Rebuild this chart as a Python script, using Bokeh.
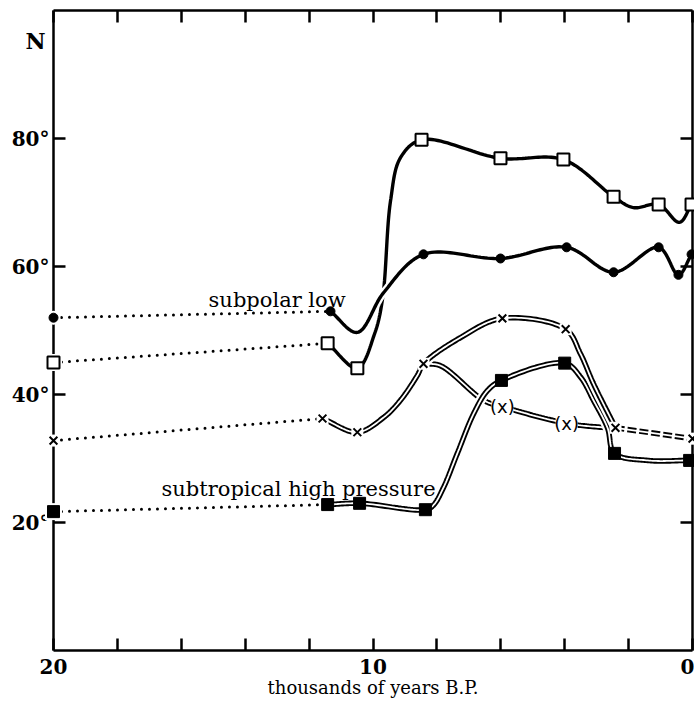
import numpy as np
from bokeh.plotting import figure
from bokeh.models import Range1d, FixedTicker, LinearAxis
from bokeh.core.properties import value
from bokeh.embed import file_html
from bokeh.resources import INLINE

# ---------------- data ----------------
# glacial values at 20 kyr B.P. joined by dotted lines to the first Holocene value
glacial_lat = [52.0, 45.0, 32.8, 21.7]          # subpolar low, squares, x, subtropical high

# subpolar low (filled circles)
low_marker_x = [11.33, 8.42, 6.01, 3.94, 2.47, 1.06, 0.44, 0.03]
low_marker_y = [53.0, 61.9, 61.25, 63.0, 59.1, 63.0, 58.7, 61.9]
low_path_x = [11.33, 10.49, 9.67, 8.42, 6.01, 3.94, 2.47, 1.06, 0.44, 0.03]
low_path_y = [53.0, 49.7, 55.9, 61.9, 61.25, 63.0, 59.1, 63.0, 58.7, 61.9]

# open squares
osq_marker_x = [11.42, 10.49, 8.48, 6.01, 4.04, 2.47, 1.06, 0.03]
osq_marker_y = [48.0, 44.1, 79.8, 76.9, 76.7, 70.9, 69.7, 69.7]
osq_path_x = [11.42, 10.49, 9.95, 9.70, 9.45, 9.14, 8.48, 6.01, 4.04, 2.47, 1.85, 1.06, 0.41, 0.03]
osq_path_y = [48.0, 44.1, 49.5, 55.0, 70.3, 77.0, 79.8, 76.9, 76.7, 70.9, 69.2, 69.7, 66.9, 69.7]

# x series (double line)
x_marker_x = [11.58, 10.49, 8.42, 5.95, 3.97, 2.41, 0.0]
x_marker_y = [36.25, 34.1, 44.8, 51.9, 50.2, 34.8, 33.1]
x_path_x = [11.58, 10.49, 9.67, 9.14, 8.61, 8.42, 7.26, 5.95, 3.97, 3.51, 3.10, 2.41]
x_path_y = [36.25, 34.1, 36.4, 39.1, 43.0, 44.8, 48.9, 51.9, 50.2, 46.4, 41.7, 34.8]
x_dash_x = [2.41, 0.0]
x_dash_y = [34.8, 33.1]
# lower branch with bracketed values "(x)"
xb_marker_x = [5.95, 3.94]
xb_marker_y = [38.1, 35.5]
xb_path_x = [8.42, 7.89, 6.54, 5.95, 3.94, 2.47]
xb_path_y = [44.8, 44.5, 39.1, 38.1, 35.5, 34.7]

# subtropical high pressure (filled squares, double line)
high_marker_x = [11.42, 10.42, 8.36, 5.98, 4.0, 2.44, 0.09]
high_marker_y = [22.8, 23.0, 22.0, 42.2, 44.9, 30.8, 29.7]
high_path_x = [11.42, 10.42, 8.36, 8.11, 7.79, 7.36, 6.85, 6.42, 5.98, 4.0, 3.50, 3.10, 2.66, 2.44, 1.4, 0.09]
high_path_y = [22.8, 23.0, 22.0, 22.7, 25.5, 30.8, 37.0, 40.6, 42.2, 44.9, 42.7, 39.1, 34.8, 30.8, 29.7, 29.7]

x_ticks = list(range(0, 21, 2))
x_tick_labels = {0: "0", 10: "10", 20: "20"}
y_ticks = [20, 40, 60, 80]
y_tick_labels = {20: "20°", 40: "40°", 60: "60°", 80: "80°"}

SERIF = "DejaVu Serif"


def smooth(xs, ys, n=24):
    """centripetal Catmull-Rom through the read points (drawing style only)"""
    P = np.column_stack([np.asarray(xs, float) * 32.0, np.asarray(ys, float) * 6.4])
    if len(P) < 3:
        return list(xs), list(ys)
    P = np.vstack([2 * P[0] - P[1], P, 2 * P[-1] - P[-2]])
    out = []
    for i in range(1, len(P) - 2):
        p0, p1, p2, p3 = P[i - 1], P[i], P[i + 1], P[i + 2]

        def tj(ti, a, b):
            return ti + max(np.hypot(*(b - a)), 1e-6) ** 0.5

        t0 = 0.0
        t1 = tj(t0, p0, p1)
        t2 = tj(t1, p1, p2)
        t3 = tj(t2, p2, p3)
        for t in np.linspace(t1, t2, n, endpoint=False):
            A1 = (t1 - t) / (t1 - t0) * p0 + (t - t0) / (t1 - t0) * p1
            A2 = (t2 - t) / (t2 - t1) * p1 + (t - t1) / (t2 - t1) * p2
            A3 = (t3 - t) / (t3 - t2) * p2 + (t - t2) / (t3 - t2) * p3
            B1 = (t2 - t) / (t2 - t0) * A1 + (t - t0) / (t2 - t0) * A2
            B2 = (t3 - t) / (t3 - t1) * A2 + (t - t1) / (t3 - t1) * A3
            out.append((t2 - t) / (t2 - t1) * B1 + (t - t1) / (t2 - t1) * B2)
    out.append(P[-2])
    a = np.array(out)
    return list(a[:, 0] / 32.0), list(a[:, 1] / 6.4)


p = figure(width=694, height=704, x_range=Range1d(20, 0), y_range=Range1d(0, 100),
           x_axis_type=None, y_axis_type=None, output_backend="svg", toolbar_location=None,
           min_border_left=53, min_border_right=2, min_border_top=10, min_border_bottom=54)
p.outline_line_color = None
p.background_fill_color = "white"
p.border_fill_color = "white"


def axis(ticks, labels, show):
    ax = LinearAxis(ticker=FixedTicker(ticks=ticks), major_tick_in=12, major_tick_out=0,
                    minor_tick_line_color=None, axis_line_width=2.5, axis_line_color="black",
                    major_tick_line_width=2.5, major_tick_line_color="black")
    if show:
        ax.major_label_overrides = {t: labels.get(t, "") for t in ticks}
        ax.major_label_text_font = SERIF
        ax.major_label_text_font_size = "20px"
        ax.major_label_text_font_style = "bold"
        ax.major_label_text_color = "black"
        ax.major_label_standoff = 4
    else:
        ax.major_label_overrides = {t: "" for t in ticks}
        ax.major_label_text_color = None
        ax.major_label_standoff = 0
    return ax


bottom = axis(x_ticks, x_tick_labels, True)
bottom.axis_label = "thousands of years B.P."
bottom.axis_label_text_font = SERIF
bottom.axis_label_text_font_size = "18px"
bottom.axis_label_text_font_style = "normal"
bottom.axis_label_text_color = "black"
bottom.axis_label_standoff = 0
bottom.major_label_standoff = 8
p.add_layout(bottom, "below")
p.add_layout(axis(y_ticks, y_tick_labels, True), "left")
p.add_layout(axis(x_ticks, {}, False), "above")
p.add_layout(axis(y_ticks, {}, False), "right")

# "N" heading of the latitude axis
r = p.text([20], [95.3], text=["N"], x_offset=-8, text_align="right", text_baseline="middle",
           text_font=value(SERIF), text_font_style="bold", text_font_size="22px", text_color="black")
r.level = "overlay"

# dotted glacial connections
for gy, (ex, ey) in zip(glacial_lat, [(low_marker_x[0], low_marker_y[0]), (osq_marker_x[0], osq_marker_y[0]),
                                      (x_marker_x[0], x_marker_y[0]), (high_marker_x[0], high_marker_y[0])]):
    p.line([20, ex], [gy, ey], line_color="black", line_width=3, line_dash="0 8", line_cap="round")

# open squares curve
sx, sy = smooth(osq_path_x, osq_path_y)
p.line(sx, sy, line_color="black", line_width=3.4)
# subpolar low curve (with white halo so crossings break)
sx, sy = smooth(low_path_x, low_path_y)
p.line(sx, sy, line_color="white", line_width=8)
p.line(sx, sy, line_color="black", line_width=3.4)


def double(xs, ys, dash=None):
    p.line(xs, ys, line_color="white", line_width=10)
    if dash:
        p.line(xs, ys, line_color="black", line_width=5.5, line_dash=dash)
    else:
        p.line(xs, ys, line_color="black", line_width=5.5)
    p.line(xs, ys, line_color="white", line_width=1.8)


sx, sy = smooth(xb_path_x, xb_path_y)
double(sx, sy)
sx, sy = smooth(high_path_x, high_path_y)
double(sx, sy)
sx, sy = smooth(x_path_x, x_path_y)
double(sx, sy)
double(x_dash_x, x_dash_y, dash="9 3")

# markers
r = p.scatter([20], [glacial_lat[0]], marker="circle", size=14, fill_color="white", line_color=None)
r.level = "overlay"
r = p.scatter([20] + low_marker_x, [glacial_lat[0]] + low_marker_y, marker="circle", size=9,
              fill_color="black", line_color="black")
r.level = "overlay"

r = p.scatter([20], [glacial_lat[1]], marker="square", size=17, fill_color="white", line_color=None)
r.level = "overlay"
r = p.scatter([20] + osq_marker_x, [glacial_lat[1]] + osq_marker_y, marker="square", size=12,
              fill_color="white", line_color="black", line_width=2)
r.level = "overlay"

r = p.scatter([20] + x_marker_x, [glacial_lat[2]] + x_marker_y, marker="square", size=12,
              fill_color="white", line_color=None)
r.level = "overlay"
r = p.scatter([20] + x_marker_x, [glacial_lat[2]] + x_marker_y, marker="x", size=11,
              line_color="black", line_width=2)
r.level = "overlay"

r = p.scatter(xb_marker_x, xb_marker_y, marker="square", size=22, fill_color="white", line_color=None)
r.level = "overlay"
r = p.text(xb_marker_x, xb_marker_y, text=["(x)"] * len(xb_marker_x), text_font=value("DejaVu Sans"),
           text_font_size="18px", text_align="center", text_baseline="middle", text_color="black")
r.level = "overlay"

r = p.scatter([20], [glacial_lat[3]], marker="square", size=17, fill_color="white", line_color=None)
r.level = "overlay"
r = p.scatter([20] + high_marker_x, [glacial_lat[3]] + high_marker_y, marker="square", size=12,
              fill_color="black", line_color="black")
r.level = "overlay"

# series labels
p.text([13.0], [54.8], text=["subpolar low"], text_font=value(SERIF), text_font_size="21px",
       text_align="center", text_baseline="alphabetic", text_color="black")
p.text([12.33], [25.3], text=["subtropical high pressure"], text_font=value(SERIF), text_font_size="21px",
       text_align="center", text_baseline="alphabetic", text_color="black")

open("out.html", "w").write(file_html(p, INLINE))
